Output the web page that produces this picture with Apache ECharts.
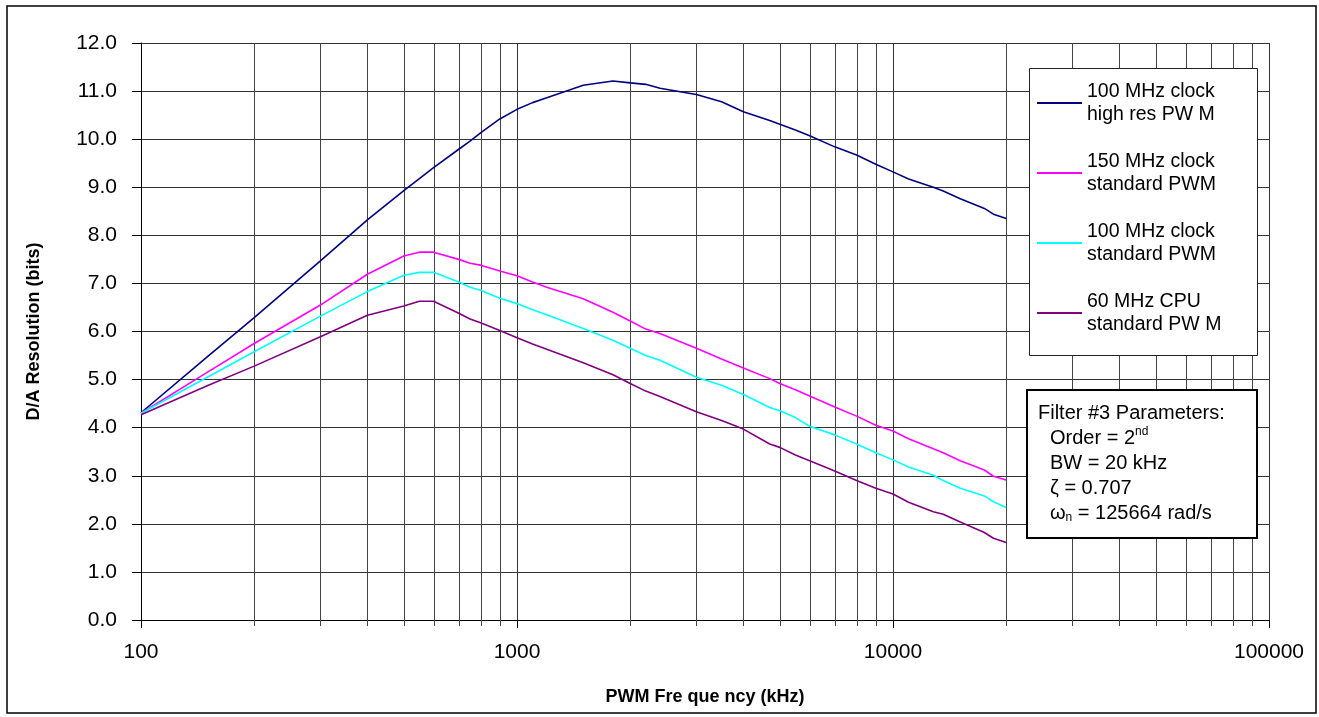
<!DOCTYPE html>
<html>
<head>
<meta charset="utf-8">
<script src="https://cdn.jsdelivr.net/npm/echarts@6/dist/echarts.min.js"></script>
<style>
html,body{margin:0;padding:0;background:#fff;}
#chart{width:1319px;height:717px;}
</style>
</head>
<body>
<div id="chart"></div>
<script>
// PWM frequency (kHz)
var freqs = [100,150,200,300,400,500,550,600,700,750,800,900,1000,1100,1200,1500,1800,2000,2200,2400,3000,3500,4000,4700,5000,5500,6000,7000,8000,9000,10000,11000,12800,13600,15100,17500,18500,20000];
var hiRes100 = [4.31,5.47,6.29,7.47,8.32,8.93,9.18,9.41,9.79,9.96,10.13,10.42,10.62,10.76,10.86,11.12,11.21,11.17,11.14,11.06,10.93,10.78,10.57,10.39,10.31,10.19,10.07,9.84,9.67,9.48,9.32,9.17,9.00,8.92,8.76,8.56,8.44,8.35];
var std150 = [4.30,5.15,5.75,6.55,7.19,7.57,7.65,7.65,7.50,7.42,7.38,7.26,7.16,7.03,6.92,6.68,6.40,6.22,6.05,5.96,5.65,5.43,5.24,5.02,4.92,4.79,4.66,4.43,4.24,4.05,3.93,3.77,3.56,3.48,3.31,3.12,2.99,2.91];
var std100 = [4.30,5.05,5.58,6.32,6.83,7.17,7.23,7.23,7.03,6.92,6.86,6.69,6.58,6.45,6.35,6.06,5.82,5.65,5.50,5.40,5.05,4.88,4.69,4.42,4.35,4.21,4.03,3.85,3.66,3.48,3.33,3.18,3.01,2.90,2.74,2.58,2.46,2.34];
var cpu60 = [4.27,4.87,5.28,5.89,6.34,6.53,6.63,6.63,6.38,6.26,6.18,6.02,5.87,5.74,5.63,5.35,5.10,4.92,4.76,4.65,4.33,4.15,3.97,3.66,3.59,3.43,3.31,3.10,2.90,2.74,2.62,2.45,2.25,2.20,2.04,1.82,1.70,1.61];
var seriesNames = ["100 MHz clock\nhigh res PW M","150 MHz clock\nstandard PWM","100 MHz clock\nstandard PWM","60 MHz CPU\nstandard PW M"];
var minorFreqs = [200,300,400,500,600,700,800,900,2000,3000,4000,5000,6000,7000,8000,9000,20000,30000,40000,50000,60000,70000,80000,90000];
var filterTitle = "Filter #3 Parameters:";
var filterLines = ["Order = 2{sup|nd}","BW = 20 kHz","ζ = 0.707","ω{sub|n} = 125664 rad/s"];

function pairs(vals){ return freqs.map(function(f,i){ return [f, vals[i]]; }); }

var FONT = "Liberation Sans, Arial, sans-serif";
var colors = ["#000080","#ff00ff","#00ffff","#800080"];
var values = [hiRes100, std150, std100, cpu60];

var series = values.map(function(v,i){
  return {
    name: seriesNames[i], type: 'line', data: pairs(v), showSymbol: false,
    lineStyle: {color: colors[i], width: 1.6}, itemStyle: {color: colors[i]},
    z: 5, silent: true
  };
});
series.unshift({
  type: 'custom', silent: true, z: 1,
  data: minorFreqs.map(function(f){ return [f, 0]; }),
  encode: {x: 0, y: 1},
  renderItem: function(params, api){
    var p0 = api.coord([api.value(0), 0]);
    var p1 = api.coord([api.value(0), 12]);
    return {
      type: 'line',
      shape: {x1: Math.round(p0[0])+0.5, y1: p0[1]+6, x2: Math.round(p0[0])+0.5, y2: p1[1]},
      style: {stroke: '#444', lineWidth: 1}
    };
  }
});

var graphics = [
  {type: 'rect', z: 0, silent: true, shape: {x: 7, y: 6, width: 1309, height: 707},
    style: {fill: 'none', stroke: '#000', lineWidth: 1.5}},
  {type: 'rect', z: 50, silent: true, shape: {x: 1029.5, y: 68.5, width: 228, height: 287},
    style: {fill: '#fff', stroke: '#222', lineWidth: 1}},
  {type: 'rect', z: 50, silent: true, shape: {x: 1027, y: 390, width: 230, height: 148},
    style: {fill: '#fff', stroke: '#000', lineWidth: 2}},
  {type: 'text', z: 55, silent: true, x: 1038, y: 413,
    style: {text: filterTitle, fontSize: 20, fill: '#000', fontFamily: FONT, verticalAlign: 'middle'}}
];
var richStyles = {sup: {fontSize: 12, padding: [0,0,12,0]}, sub: {fontSize: 12, padding: [10,0,0,0]}};
filterLines.forEach(function(t, i){
  graphics.push({type: 'text', z: 55, silent: true, x: 1050, y: 438 + i*25,
    style: {text: t, fontSize: 20, fill: '#000', fontFamily: FONT, verticalAlign: 'middle', rich: richStyles}});
});

var chart = echarts.init(document.getElementById('chart'), null, {renderer: 'canvas'});
chart.setOption({
  animation: false,
  backgroundColor: '#fff',
  textStyle: {fontFamily: FONT},
  grid: {left: 141, right: 50, top: 43, bottom: 97, containLabel: false},
  xAxis: {
    type: 'log', logBase: 10, min: 100, max: 100000,
    name: 'PWM Fre que ncy (kHz)', nameLocation: 'middle', nameGap: 68,
    nameTextStyle: {fontSize: 18, fontWeight: 'bold', color: '#000', fontFamily: FONT},
    axisLine: {show: true, onZero: false, lineStyle: {color: '#000', width: 1}},
    axisTick: {show: true, inside: false, length: 8, lineStyle: {color: '#000'}},
    axisLabel: {fontSize: 21, color: '#000', margin: 22, fontFamily: FONT,
      formatter: function(v){ return String(Math.round(v)); }},
    splitLine: {show: true, lineStyle: {color: '#333', width: 1}},
    minorTick: {show: false}, minorSplitLine: {show: false}
  },
  yAxis: {
    type: 'value', min: 0, max: 12, interval: 1,
    name: 'D/A Resolution (bits)', nameLocation: 'middle', nameGap: 98, nameRotate: 90,
    nameTextStyle: {fontSize: 18, fontWeight: 'bold', color: '#000', fontFamily: FONT},
    axisLine: {show: true, lineStyle: {color: '#000', width: 1}},
    axisTick: {show: true, inside: false, length: 9, lineStyle: {color: '#000'}},
    axisLabel: {fontSize: 21, color: '#000', margin: 24, fontFamily: FONT,
      formatter: function(v){ return v.toFixed(1); }},
    splitLine: {show: true, lineStyle: {color: '#333', width: 1}}
  },
  legend: {
    orient: 'vertical', left: 1037, top: 80, z: 60,
    data: seriesNames, icon: 'rect', itemWidth: 45, itemHeight: 2, itemGap: 24,
    selectedMode: false, padding: 0,
    textStyle: {fontSize: 19.5, lineHeight: 23, color: '#000', fontFamily: FONT}
  },
  graphic: graphics,
  series: series
});
</script>
</body>
</html>
